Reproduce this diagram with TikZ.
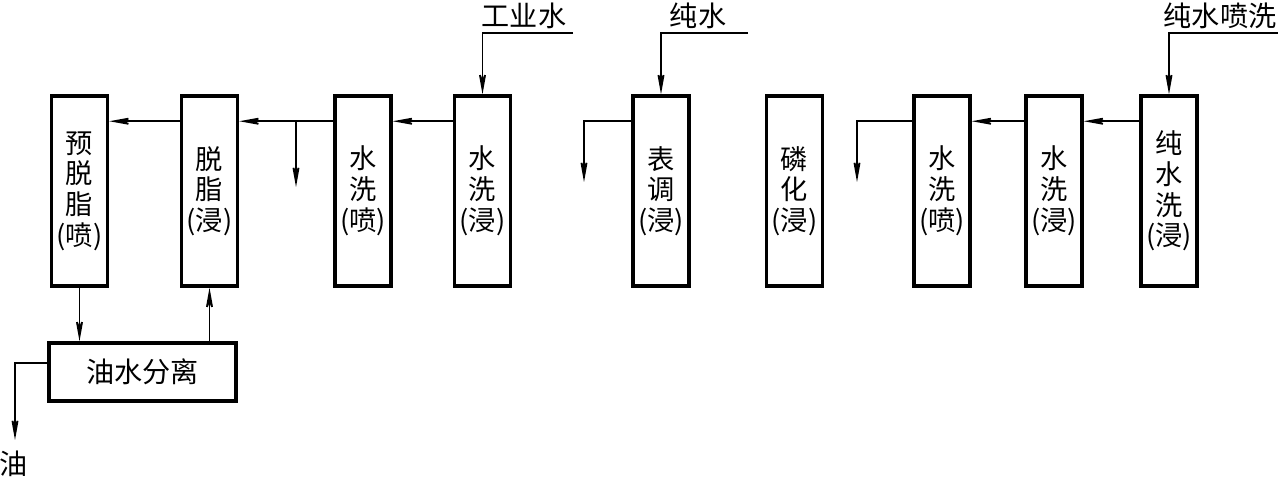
\documentclass[tikz,border=0pt]{standalone}
\usepackage{fontspec}
\setmainfont{Noto Sans CJK SC}
\usetikzlibrary{arrows.meta,positioning}
\newcommand\tankfont{\fontsize{15.5}{17.5}\selectfont\lineskiplimit=-20pt\relax}

\begin{document}
\begin{tikzpicture}[
  tank/.style={draw,line width=2pt,minimum width=1.12cm,minimum height=3.8cm,
               align=center,inner sep=0pt,font=\tankfont},
  flow/.style={line width=1pt,-{Stealth[length=5.5mm,width=2mm,inset=2.5mm]}},
  lbl/.style={font=\fontsize{16}{17}\selectfont,inner sep=2pt,anchor=south},
]
\useasboundingbox (0,0) rectangle (25.56,-9.56);
% tanks
\node[tank] (b1) at (1.59,-3.82) {预\\脱\\脂\\(喷)};
\node[tank] (b2) at (4.19,-3.82) {脱\\脂\\(浸)};
\node[tank] (b3) at (7.26,-3.82) {水\\洗\\(喷)};
\node[tank] (b4) at (9.65,-3.82) {水\\洗\\(浸)};
\node[tank] (b5) at (13.22,-3.82) {表\\调\\(浸)};
\node[tank] (b6) at (15.89,-3.82) {磷\\化\\(浸)};
\node[tank] (b7) at (18.84,-3.82) {水\\洗\\(喷)};
\node[tank] (b8) at (21.08,-3.82) {水\\洗\\(浸)};
\node[tank] (b9) at (23.38,-3.82) {纯\\水\\洗\\(浸)};
\node[draw,line width=2pt,minimum width=3.74cm,minimum height=1.16cm,
      font=\fontsize{16}{17}\selectfont] (sep) at (2.85,-7.44) {油水分离};

% water inlets
\node[lbl] (iw) at (10.48,-0.66) {工业水};
\node[lbl] (pw) at (13.96,-0.66) {纯水};
\node[lbl] (pws) at (24.40,-0.66) {纯水喷洗};
\coordinate (iwR) at (11.46,-0.66);
\coordinate (pwR) at (14.96,-0.66);
\coordinate (pwsR) at (25.56,-0.66);
\draw[flow] (iwR) -- (b4.north |- iwR) -- (b4.north);
\draw[flow] (pwR) -- (b5.north |- pwR) -- (b5.north);
\draw[flow] (pwsR) -- (b9.north |- pwsR) -- (b9.north);

% overflow between tanks
\coordinate (r2) at ([yshift=-0.54cm]b2.north west);
\coordinate (r3) at ([yshift=-0.54cm]b3.north west);
\coordinate (r4) at ([yshift=-0.54cm]b4.north west);
\coordinate (r5) at ([yshift=-0.54cm]b5.north west);
\coordinate (r7) at ([yshift=-0.54cm]b7.north west);
\coordinate (r8) at ([yshift=-0.54cm]b8.north west);
\coordinate (r9) at ([yshift=-0.54cm]b9.north west);
\draw[flow] (r2) -- (r2 -| b1.east);
\draw[flow] (r3) -- (r3 -| b2.east);
\draw[flow] (r4) -- (r4 -| b3.east);
\draw[flow] (r8) -- (r8 -| b7.east);
\draw[flow] (r9) -- (r9 -| b8.east);

% drains
\coordinate (d3) at (5.92,-3.74);
\coordinate (d5) at (11.68,-3.64);
\coordinate (d7) at (17.14,-3.64);
\draw[flow] (r3 -| d3) -- (d3);
\draw[flow] (r5) -| (d5);
\draw[flow] (r7) -| (d7);

% oil separation loop
\draw[flow] (b1.south) -- (b1.south |- sep.north);
\draw[flow] (b2.south |- sep.north) -- (b2.south);
\coordinate (oil) at (0.30,-8.80);
\draw[flow] ([yshift=0.18cm]sep.west) -| (oil);
\node[font=\fontsize{16}{17}\selectfont,inner sep=0pt] (oilt) at (0.28,-9.28) {油};
\end{tikzpicture}
\end{document}
